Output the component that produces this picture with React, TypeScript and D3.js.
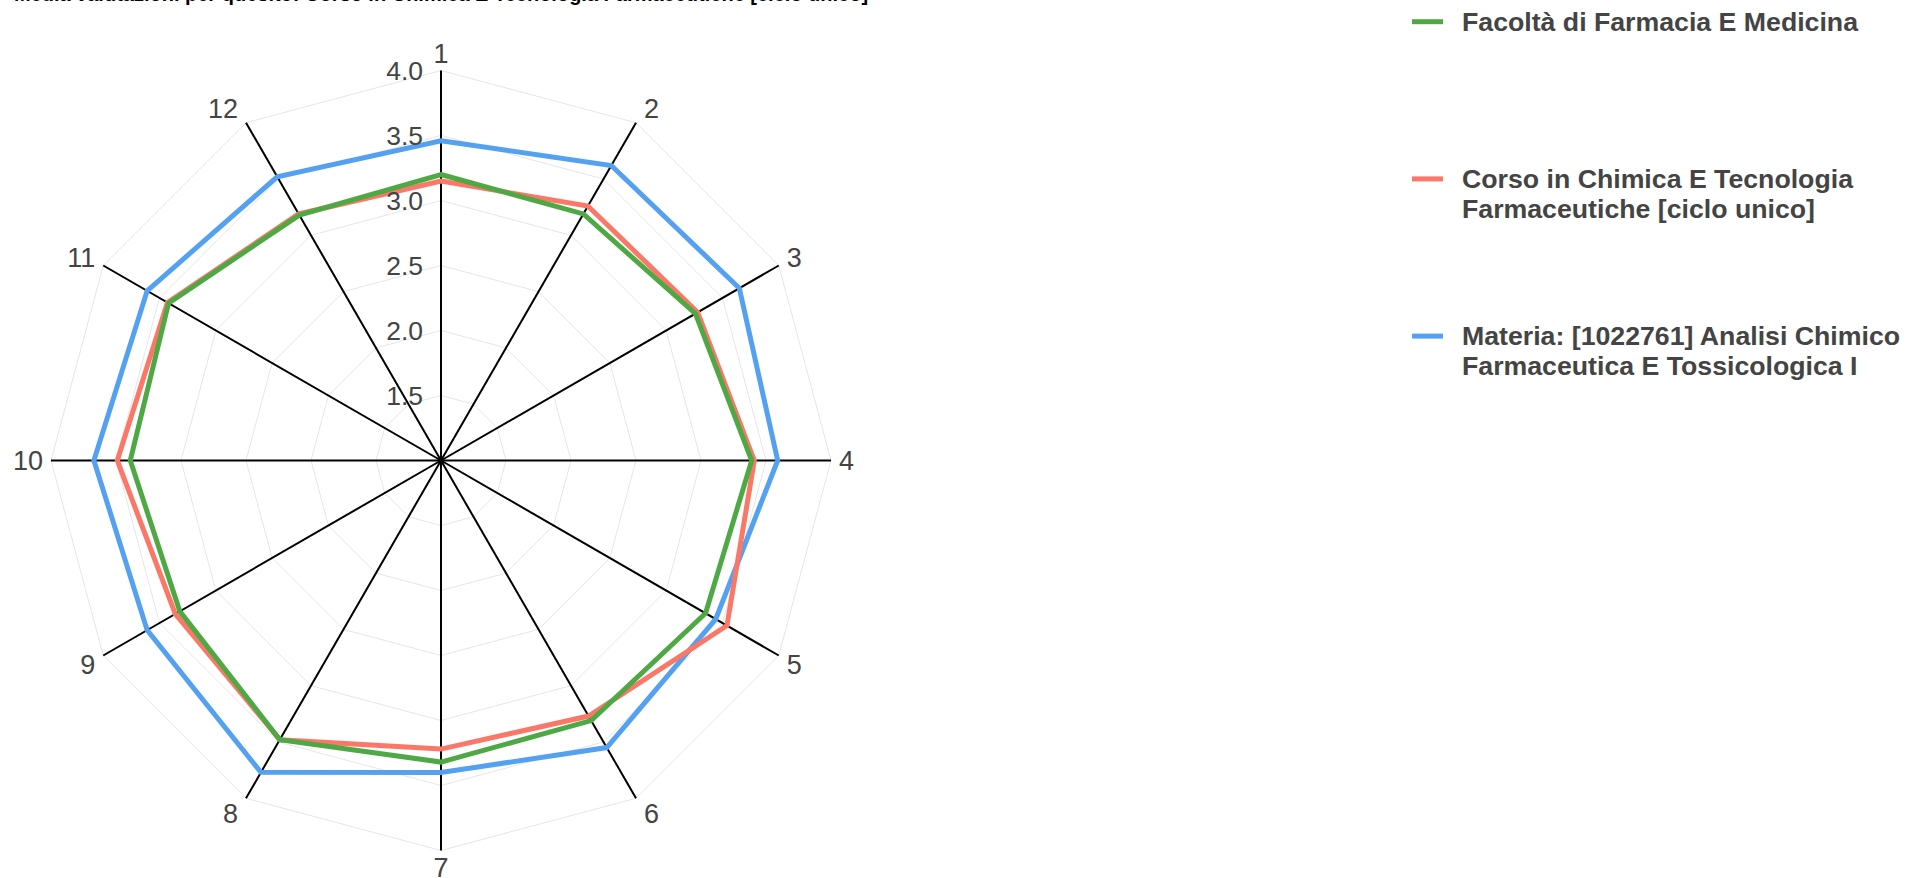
import React from "react";
import * as d3 from "d3";

const categories = ["1", "2", "3", "4", "5", "6", "7", "8", "9", "10", "11", "12"];
const radialTicks = [1.5, 2.0, 2.5, 3.0, 3.5, 4.0];

const facoltaValues = [3.20, 3.19, 3.26, 3.39, 3.35, 3.31, 3.32, 3.48, 3.32, 3.39, 3.42, 3.18];
const corsoValues = [3.15, 3.26, 3.28, 3.41, 3.54, 3.27, 3.22, 3.48, 3.36, 3.49, 3.43, 3.19];
const materiaValues = [3.46, 3.62, 3.65, 3.59, 3.44, 3.55, 3.40, 3.77, 3.61, 3.67, 3.61, 3.52];

const seriesNames = [
  ["Facoltà di Farmacia E Medicina"],
  ["Corso in Chimica E Tecnologia", "Farmaceutiche [ciclo unico]"],
  ["Materia: [1022761] Analisi Chimico", "Farmaceutica E Tossicologica I"],
];
const seriesColors = ["#4ea945", "#fb7767", "#54a1f1"];
const seriesValues = [facoltaValues, corsoValues, materiaValues];
const drawOrder = [2, 1, 0];

const titleText = "Media valutazioni per quesito: Corso in Chimica E Tecnologia Farmaceutiche [ciclo unico]";

const W = 1905;
const H = 878;
const cx = 441;
const cy = 460.5;
const R = 390;

export default function App() {
  const r = d3.scaleLinear().domain([1, 4]).range([0, R]);
  const angle = d3
    .scaleLinear()
    .domain([0, categories.length])
    .range([0, 2 * Math.PI]);

  const radial = d3
    .lineRadial<number>()
    .angle((_, i) => angle(i))
    .radius((d) => r(d))
    .curve(d3.curveLinearClosed);

  const gridLine = (v: number) => radial(categories.map(() => v)) || "";

  const fontFamily = "'Liberation Sans', Arial, Helvetica, sans-serif";
  const labelSize = 27;
  const tickSize = 26.5;

  return (
    <svg
      width={W}
      height={H}
      style={{ position: "absolute", left: 0, top: 0, display: "block" }}
      fontFamily={fontFamily}
    >
      <rect x={0} y={0} width={W} height={H} fill="#fff" />
      <text
        x={cx}
        y={1}
        textAnchor="middle"
        fontSize={20}
        fontWeight="bold"
        fill="#000"
      >
        {titleText}
      </text>
      <g transform={`translate(${cx},${cy})`}>
        {radialTicks.map((t) => (
          <path key={"g" + t} d={gridLine(t)} fill="none" stroke="#e6e6e6" strokeWidth={1} />
        ))}
        {categories.map((c, i) => {
          const a = angle(i);
          return (
            <line
              key={"ax" + c}
              x1={0}
              y1={0}
              x2={R * Math.sin(a)}
              y2={-R * Math.cos(a)}
              stroke="#000"
              strokeWidth={2}
            />
          );
        })}
        {drawOrder.map((si) => (
          <path
            key={"s" + si}
            d={radial(seriesValues[si]) || ""}
            fill="none"
            stroke={seriesColors[si]}
            strokeWidth={5}
            strokeLinejoin="miter"
          />
        ))}
        {radialTicks.map((t) => (
          <text
            key={"t" + t}
            x={-18}
            y={-r(t)}
            dy="0.36em"
            textAnchor="end"
            fontSize={tickSize}
            fill="#444"
          >
            {t.toFixed(1)}
          </text>
        ))}
        {categories.map((c, i) => {
          const a = angle(i);
          const s = Math.sin(a);
          const co = Math.cos(a);
          const ex = R * s;
          const ey = -R * co;
          const anchor = s > 0.01 ? "start" : s < -0.01 ? "end" : "middle";
          const x = ex + (anchor === "middle" ? 0 : 8 * Math.sign(s));
          const y = ey - 17 * co;
          return (
            <text
              key={"l" + c}
              x={x}
              y={y}
              dy="0.36em"
              textAnchor={anchor}
              fontSize={labelSize}
              fill="#444"
            >
              {c}
            </text>
          );
        })}
      </g>
      <g fontWeight="bold" fontSize={26.7} fill="#444">
        {seriesNames.map((lines, i) => {
          const base = 30.7 + i * 157.2;
          return (
            <g key={"leg" + i}>
              <line
                x1={1412}
                x2={1443}
                y1={base - 9}
                y2={base - 9}
                stroke={seriesColors[i]}
                strokeWidth={5}
              />
              {lines.map((ln, j) => (
                <text key={j} x={1462} y={base + j * 30}>
                  {ln}
                </text>
              ))}
            </g>
          );
        })}
      </g>
    </svg>
  );
}
